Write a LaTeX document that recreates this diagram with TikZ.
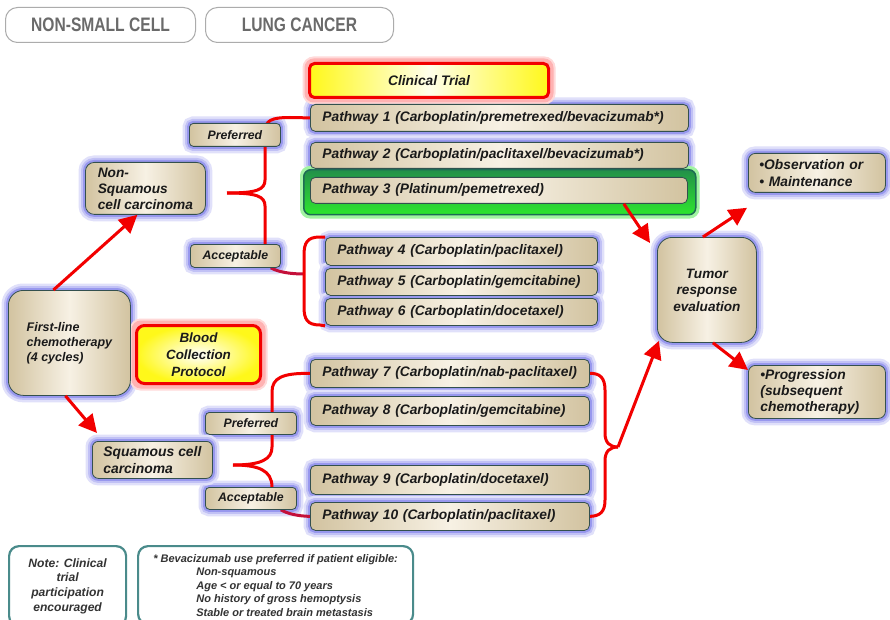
\documentclass[tikz,border=0pt]{standalone}
\usepackage{fontspec}
\setmainfont{Liberation Sans}
\usepackage{graphicx}
\usetikzlibrary{arrows.meta}
\pgfdeclarelayer{bgl}
\pgfdeclarelayer{glowl}
\pgfdeclarelayer{conn}
\pgfsetlayers{bgl,glowl,conn,main}
\definecolor{tanD}{HTML}{D2C3A0}
\definecolor{tanL}{HTML}{F7F1E4}
\definecolor{bord}{HTML}{33504E}
\definecolor{glow}{HTML}{9898EE}
\definecolor{txt}{HTML}{1A1A1A}
\definecolor{redL}{HTML}{F20000}
\definecolor{redD}{HTML}{C4103A}
\definecolor{yel}{HTML}{FFF81A}
\definecolor{grnD}{HTML}{1E6B55}
\definecolor{grnL}{HTML}{2EE62E}
\definecolor{teal2}{HTML}{4A8B8B}
\definecolor{ttl}{HTML}{6A6A6A}
\newcommand\fP{\fontsize{13.8}{16}\selectfont\bfseries\itshape}
\newcommand\fS{\fontsize{12.3}{14}\selectfont\bfseries\itshape}
\newcommand\fN{\fontsize{12.1}{14.7}\selectfont\bfseries\itshape}
\newcommand\fB{\fontsize{11}{13.5}\selectfont\bfseries\itshape}
\newcommand\fT{\fontsize{19.5}{22}\selectfont\bfseries}
\begin{document}
\begin{tikzpicture}[x=1pt,y=-1pt,
 box/.style={draw=bord, line width=0.8pt, left color=tanD, right color=tanD, middle color=tanL, text=txt, anchor=north west, inner sep=0pt, align=center, rounded corners=#1},
 box/.default=5pt,
 pw/.style={box, align=left, inner xsep=12pt, font=\fP},
 glowA/.style={draw=glow!30, line width=13pt},
 glowB/.style={draw=glow!60, line width=8pt},
 glowC/.style={draw=glow, line width=4pt},
 rl/.style={draw=redL, line width=3pt},
 rd/.style={draw=redD, line width=3pt},
 arr/.style={draw=redL, line width=3pt, -{Triangle[length=18pt,width=18pt]}},
 ttlbox/.style={draw=gray!65, line width=1pt, rounded corners=12pt, text=ttl, font=\fT, anchor=north west, minimum height=35pt, inner sep=0pt},
 hot/.style={draw=redL, line width=3pt, text=txt, anchor=north west, inner sep=0pt, align=center},
 note/.style={draw=teal2, line width=2.2pt, rounded corners=10pt, fill=white, anchor=north west, text=black!80, inner sep=0pt}
]
\useasboundingbox (0,0) rectangle (890,620);
\begin{pgfonlayer}{bgl}
\fill[white] (0,0) rectangle (890,620);
\end{pgfonlayer}
\clip (0,0) rectangle (890,620);

% titles
\node[ttlbox, minimum width=190pt] (t1) at (5,7) {\scalebox{0.8}[1]{NON-SMALL CELL}};
\node[ttlbox, minimum width=188pt] (t2) at (205,7) {\scalebox{0.8}[1]{LUNG CANCER}};

% clinical trial
\node[hot, rounded corners=5pt, left color=yel, right color=yel, middle color=yellow!8, minimum width=239pt, minimum height=34pt, font=\fP] (ct) at (308,62) {Clinical Trial};

% pathways
\node[pw, text width=354pt, minimum height=27pt] (p1) at (310,104) {Pathway 1 (Carboplatin/premetrexed/bevacizumab*)};
\node[pw, text width=354pt, minimum height=26pt] (p2) at (310,142) {Pathway 2 (Carboplatin/paclitaxel/bevacizumab*)};
\node[draw=grnD, line width=1.5pt, rounded corners=7pt, top color=grnD!70!grnL, bottom color=grnL, anchor=north west, minimum width=392pt, minimum height=45pt, inner sep=0pt] (grn) at (303,169) {};
\node[pw, text width=353pt, minimum height=26pt] (p3) at (310,177) {Pathway 3 (Platinum/pemetrexed)};
\node[pw, text width=248pt, minimum height=28pt] (p4) at (325,237) {Pathway 4 (Carboplatin/paclitaxel)};
\node[pw, text width=248pt, minimum height=27pt] (p5) at (325,268) {Pathway 5 (Carboplatin/gemcitabine)};
\node[pw, text width=248pt, minimum height=27pt] (p6) at (325,298) {Pathway 6 (Carboplatin/docetaxel)};
\node[pw, text width=255pt, minimum height=28pt] (p7) at (310,359) {Pathway 7 (Carboplatin/nab-paclitaxel)};
\node[pw, text width=255pt, minimum height=29pt] (p8) at (310,396) {Pathway 8 (Carboplatin/gemcitabine)};
\node[pw, text width=255pt, minimum height=29pt] (p9) at (310,465) {Pathway 9 (Carboplatin/docetaxel)};
\node[pw, text width=255pt, minimum height=28pt] (p10) at (310,502) {Pathway 10 (Carboplatin/paclitaxel)};

% labels
\node[box=4pt, font=\fS, minimum width=91pt, minimum height=23pt] (pr1) at (189,123) {Preferred};
\node[box=4pt, font=\fS, minimum width=90pt, minimum height=23pt] (ac1) at (190,244) {Acceptable};
\node[box=4pt, font=\fS, minimum width=91pt, minimum height=22pt] (pr2) at (205,412) {Preferred};
\node[box=4pt, font=\fS, minimum width=91pt, minimum height=22pt] (ac2) at (205,487) {Acceptable};

% left nodes
\node[box=9pt, font=\fontsize{13.7}{16}\selectfont\bfseries\itshape, minimum width=120pt, minimum height=52pt, align=left] (ns) at (85,162) {Non-\\Squamous\\cell carcinoma};
\node[box=15pt, font=\fontsize{12.5}{15}\selectfont\bfseries\itshape, minimum width=122pt, minimum height=105pt, align=left] (fl) at (8,290) {First-line\\chemotherapy\\(4 cycles)};
\node[hot, rounded corners=8pt, inner color=white, outer color=yel, minimum width=124pt, minimum height=58pt, font=\fontsize{13.4}{17}\selectfont\bfseries\itshape] (bc) at (135,324) {Blood\\Collection\\Protocol};
\node[box=6pt, font=\fontsize{13.9}{16.7}\selectfont\bfseries\itshape, minimum width=120pt, minimum height=37pt, align=left] (sq) at (92,441) {Squamous cell\\carcinoma};

% right nodes
\node[box=15pt, font=\fontsize{13.6}{16.5}\selectfont\bfseries\itshape, minimum width=99pt, minimum height=105pt] (tr) at (657,237) {Tumor\\response\\evaluation};
\node[box=7pt, font=\fontsize{13.8}{17}\selectfont\bfseries\itshape, minimum height=39pt, inner xsep=11pt, text width=115pt, align=left] (ob) at (748,153) {\textbullet Observation or\\\textbullet\ Maintenance};
\node[box=7pt, font=\fontsize{13.8}{16.3}\selectfont\bfseries\itshape, minimum height=53pt, inner xsep=12pt, text width=113pt, align=left] (pg) at (748,365) {\textbullet Progression\\(subsequent\\chemotherapy)};

% notes
\node[note, minimum width=117pt, minimum height=80pt, align=center, font=\fN] (nt) at (8,545) {Note: Clinical\\trial\\participation\\encouraged};
\node[note, minimum width=275pt, minimum height=78pt, align=left, font=\fB] (bv) at (137,545) {* Bevacizumab use preferred if patient eligible:\\\hspace*{43pt}Non-squamous\\\hspace*{43pt}Age < or equal to 70 years\\\hspace*{43pt}No history of gross hemoptysis\\\hspace*{43pt}Stable or treated brain metastasis};

% glows
\begin{pgfonlayer}{glowl}
\foreach \n/\r in {p1/5pt,p2/5pt,p4/5pt,p5/5pt,p6/5pt,p7/5pt,p8/5pt,p9/5pt,p10/5pt,pr1/4pt,ac1/4pt,pr2/4pt,ac2/4pt,ns/9pt,fl/15pt,sq/6pt,tr/15pt,ob/7pt,pg/7pt}{
 \draw[glowA, rounded corners=\r] (\n.north west) rectangle (\n.south east);
 \draw[glowB, rounded corners=\r] (\n.north west) rectangle (\n.south east);
 \draw[glowC, rounded corners=\r] (\n.north west) rectangle (\n.south east);
}
\foreach \n in {ct,bc}{
 \draw[draw=red!15, line width=11pt, rounded corners=6pt] (\n.north west) rectangle (\n.south east);
 \draw[draw=red!30, line width=7pt, rounded corners=6pt] (\n.north west) rectangle (\n.south east);
}
\draw[draw=grnL!45, line width=6pt, rounded corners=7pt] (grn.north west) rectangle (grn.south east);
\end{pgfonlayer}

% connectors
\coordinate (nsTip) at (227,193);
\coordinate (sqTip) at (233,465);
\coordinate (rbTip) at (618,447);
\coordinate (brL) at (304,274);
\begin{pgfonlayer}{conn}
\draw[rl] (p1.west) -- (290,117.5) .. controls (272,117.5) and (265,120) .. (265,132) -- (265,180) .. controls (265,190) and (256,193) .. (nsTip);
\draw[rl] (nsTip) .. controls (256,193) and (265,196) .. (265,206) -- ([xshift=75pt]ac1.north west);
\draw[rd] ([xshift=-10pt]ac1.south east) .. controls (278,272) and (290,274) .. (brL);
\draw[rl] (p4.north west) -- (320,237) .. controls (307,237) and (304,243) .. (304,255) -- (304,307) .. controls (304,319) and (307,325) .. (320,325) -- (p6.south west);
\draw[rl] (p7.west) .. controls (282,373) and (272,378) .. (272,392) -- (272,447) .. controls (272,459) and (262,465) .. (sqTip);
\draw[rl] (sqTip) .. controls (258,465) and (272,470) .. ([xshift=67pt]ac2.north west);
\draw[rd] ([xshift=-16pt]ac2.south east) .. controls (288,514) and (298,516) .. (p10.west);
\draw[rl] (p7.east) .. controls (600,373) and (605,378) .. (605,390) -- (605,433) .. controls (605,443) and (610,447) .. (rbTip);
\draw[rl] (rbTip) .. controls (610,447) and (605,451) .. (605,461) -- (605,500) .. controls (605,512) and (600,516) .. (p10.east);
\end{pgfonlayer}

% arrows
\draw[arr] ([xshift=-16pt]fl.north) -- ([xshift=-8pt]ns.south);
\draw[arr] ([xshift=-4pt]fl.south) -- ([shift={(5pt,8pt)}]sq.north west);
\draw[arr] ([xshift=-64pt]p3.south east) -- ([shift={(-7pt,-6pt)}]tr.north west);
\draw[arr] (rbTip) -- ([shift={(2pt,2pt)}]tr.south west);
\draw[arr] ([xshift=-4pt]tr.north) -- ([shift={(-1pt,-15pt)}]ob.south west);
\draw[arr] ([xshift=6pt]tr.south) -- ([yshift=-5pt]pg.north west);
\end{tikzpicture}
\end{document}
